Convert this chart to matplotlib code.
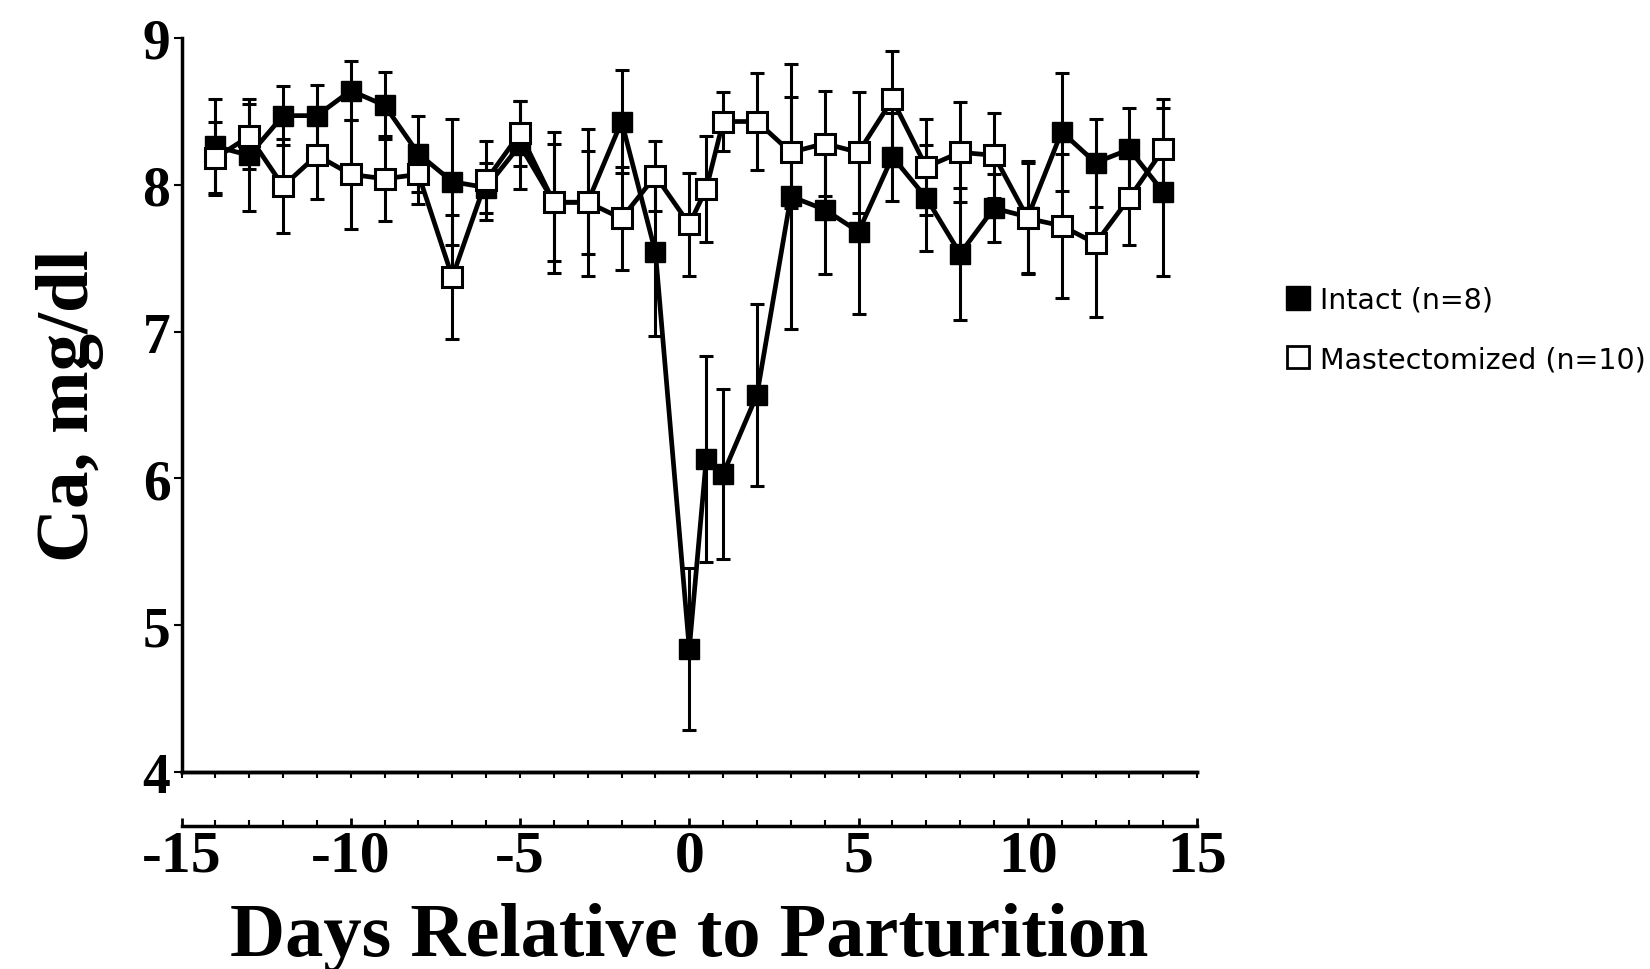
import matplotlib.pyplot as plt
from matplotlib.lines import Line2D

# days relative to parturition (0.5 = extra sample on day of calving)
days = [-14, -13, -12, -11, -10, -9, -8, -7, -6, -5, -4, -3, -2, -1, 0, 0.5,
        1, 2, 3, 4, 5, 6, 7, 8, 9, 10, 11, 12, 13, 14]

intact = [8.26, 8.20, 8.47, 8.47, 8.64, 8.54, 8.21, 8.02, 7.98, 8.27, 7.88, 7.88,
          8.43, 7.54, 4.84, 6.13, 6.03, 6.57, 7.92, 7.83, 7.68, 8.19, 7.91, 7.53,
          7.84, 7.78, 8.36, 8.15, 8.24, 7.95]
intact_se = [0.32, 0.38, 0.20, 0.21, 0.20, 0.23, 0.26, 0.43, 0.17, 0.30, 0.48, 0.50,
             0.35, 0.57, 0.55, 0.70, 0.58, 0.62, 0.90, 0.44, 0.56, 0.30, 0.36, 0.45,
             0.23, 0.38, 0.40, 0.30, 0.28, 0.57]

mastect = [8.18, 8.33, 7.99, 8.20, 8.07, 8.04, 8.07, 7.37, 8.03, 8.35, 7.88, 7.88,
           7.77, 8.06, 7.73, 7.97, 8.43, 8.43, 8.22, 8.28, 8.22, 8.58, 8.12, 8.22,
           8.20, 7.77, 7.72, 7.60, 7.91, 8.24]
mastect_se = [0.25, 0.22, 0.32, 0.30, 0.37, 0.29, 0.20, 0.42, 0.27, 0.22, 0.40, 0.35,
              0.35, 0.24, 0.35, 0.36, 0.20, 0.33, 0.38, 0.36, 0.41, 0.33, 0.33, 0.34,
              0.29, 0.38, 0.49, 0.50, 0.32, 0.34]

fig = plt.figure(figsize=(16.5, 9.7), dpi=100)
ax = fig.add_axes([0.110, 0.203, 0.6155, 0.757])

# Intact cows: filled squares
ax.errorbar(days, intact, yerr=intact_se, color='black', linewidth=3.4,
            marker='s', markersize=14, markerfacecolor='black',
            markeredgecolor='black', ecolor='black', elinewidth=2.2,
            capsize=5, capthick=2.2, zorder=3)

# Mastectomized cows: open squares
ax.errorbar(days, mastect, yerr=mastect_se, color='black', linewidth=3.4,
            marker='s', markersize=14, markerfacecolor='white',
            markeredgecolor='black', markeredgewidth=2.2, ecolor='black',
            elinewidth=2.2, capsize=5, capthick=2.2, zorder=4)

ax.set_xlim(-15, 15)
ax.set_ylim(4, 9)

# axes styling: no top/right, x-axis drawn offset below the y=4 line
ax.spines['top'].set_visible(False)
ax.spines['right'].set_visible(False)
ax.spines['bottom'].set_position(('outward', 39))
ax.spines['bottom'].set_linewidth(2.5)
ax.spines['left'].set_linewidth(2.5)
ax.axhline(4, color='black', linewidth=2.5, clip_on=False)

ax.set_xticks([-15, -10, -5, 0, 5, 10, 15])
ax.set_xticks(range(-15, 16), minor=True)
ax.set_yticks([4, 5, 6, 7, 8, 9])

tick_font = {'family': 'Liberation Serif', 'weight': 'bold'}
ax.set_xticklabels(['-15', '-10', '-5', '0', '5', '10', '15'], fontdict=tick_font, fontsize=43)
ax.set_yticklabels(['4', '5', '6', '7', '8', '9'], fontdict=tick_font, fontsize=40)
ax.tick_params(axis='x', which='major', direction='in', length=6, width=2, pad=2)
ax.tick_params(axis='x', which='minor', direction='in', length=4, width=1.5)
ax.tick_params(axis='y', direction='out', length=6, width=1.5, pad=2)

# small ticks on the y=4 line as well
sec = ax.secondary_xaxis(0.0)
sec.set_xticks(range(-15, 16))
sec.tick_params(direction='out', length=4, width=1.5, labelbottom=False)
sec.spines['bottom'].set_linewidth(2.5)

ax.set_xlabel('Days Relative to Parturition', family='Liberation Serif',
              weight='bold', fontsize=55, labelpad=14)
ax.set_ylabel('Ca, mg/dl', family='Liberation Serif', weight='bold',
              fontsize=54, labelpad=28)

handles = [
    Line2D([], [], linestyle='none', marker='s', markersize=17,
           markerfacecolor='black', markeredgecolor='black'),
    Line2D([], [], linestyle='none', marker='s', markersize=16,
           markerfacecolor='white', markeredgecolor='black', markeredgewidth=2),
]
fig.legend(handles, ['Intact (n=8)', 'Mastectomized (n=10)'],
           loc='upper left', bbox_to_anchor=(0.773, 0.716), frameon=False,
           prop={'family': 'DejaVu Sans', 'size': 20.5}, handlelength=0.8,
           handletextpad=0.35, labelspacing=1.1, borderaxespad=0)

fig.savefig('out.png', dpi=100)
